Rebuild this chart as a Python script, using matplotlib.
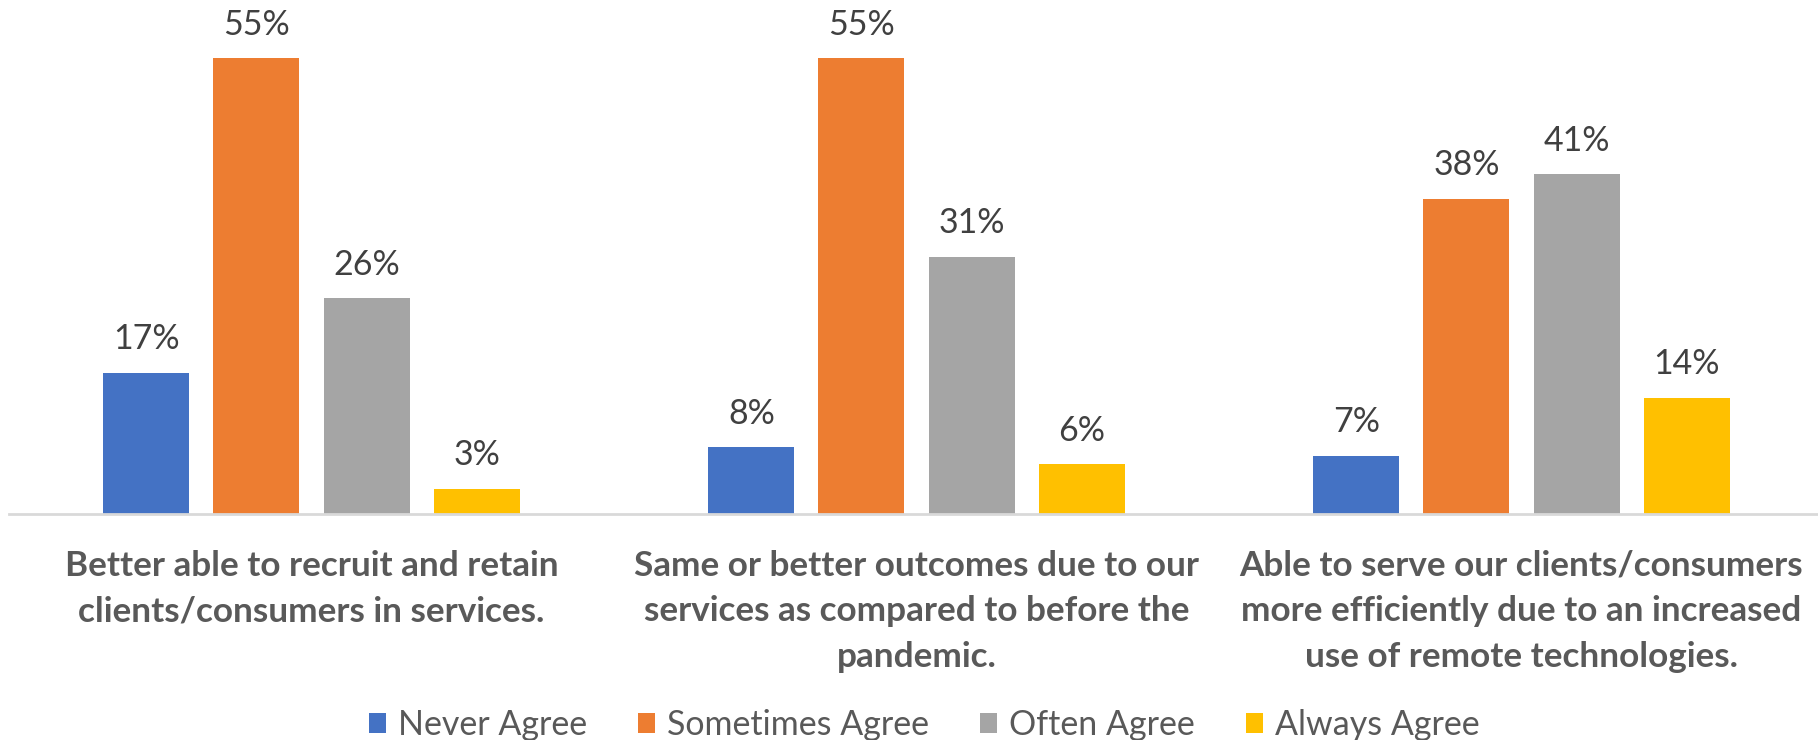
import matplotlib
matplotlib.use("Agg")
import matplotlib.pyplot as plt
import numpy as np
from matplotlib.patches import Patch

categories = [
    "Better able to recruit and retain\nclients/consumers in services.",
    "Same or better outcomes due to our\nservices as compared to before the\npandemic.",
    "Able to serve our clients/consumers\nmore efficiently due to an increased\nuse of remote technologies.",
]
series = ["Never Agree", "Sometimes Agree", "Often Agree", "Always Agree"]
never_agree = [17, 8, 7]
sometimes_agree = [55, 55, 38]
often_agree = [26, 31, 41]
always_agree = [3, 6, 14]
colors = ["#4472C4", "#ED7D31", "#A5A5A5", "#FFC000"]

values = [never_agree, sometimes_agree, often_agree, always_agree]

plt.rcParams['font.family'] = ['Lato', 'DejaVu Sans']

W, H = 1818, 740
fig = plt.figure(figsize=(W / 100, H / 100), dpi=100)
ax = fig.add_axes([9 / W, (H - 513.6) / H, 1815 / W, 513.6 / H])

x = np.arange(len(categories))
bw = 0.142
step = 0.182
for i, (name, vals, c) in enumerate(zip(series, values, colors)):
    pos = x + (i - 1.5) * step
    ax.bar(pos, vals, width=bw, color=c, label=name, zorder=2)
    for xp, v in zip(pos, vals):
        ax.annotate(f"{v}%", (xp, v), xytext=(0, 24), textcoords="offset points",
                    ha="center", va="center", fontsize=24.5, color="#404040")

ax.set_xlim(-0.5, 2.5)
ax.set_ylim(0, 62.0)
ax.set_yticks([])
for s in ["top", "right", "left"]:
    ax.spines[s].set_visible(False)
ax.spines["bottom"].set_color("#D9D9D9")
ax.spines["bottom"].set_linewidth(2)
ax.set_xticks(x)
ax.set_xticklabels(categories, fontsize=25.3, fontweight="bold", color="#595959",
                   linespacing=1.52)
ax.tick_params(axis="x", length=0, pad=26)

handles = [Patch(facecolor=c, edgecolor="none") for c in colors]
fig.legend(handles, series, loc="center", bbox_to_anchor=(924 / W, 1 - 725 / H),
           ncol=4, frameon=False, fontsize=24.5, labelcolor="#595959",
           handlelength=0.5, handleheight=0.5, handletextpad=0.35,
           columnspacing=1.5, borderaxespad=0, borderpad=0)

fig.savefig("out.png", dpi=100)
